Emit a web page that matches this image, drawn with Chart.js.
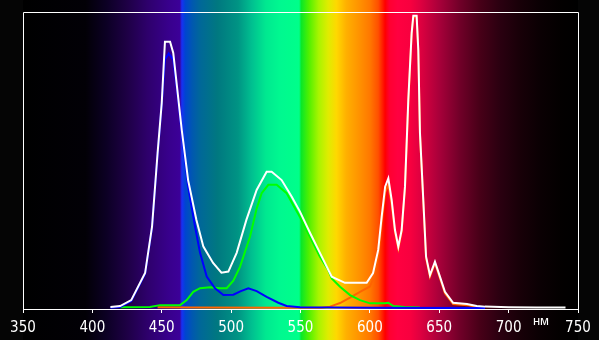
<!DOCTYPE html>
<html><head><meta charset="utf-8">
<script src="https://cdn.jsdelivr.net/npm/chart.js@4.4.1/dist/chart.umd.min.js"></script>
<style>html,body{margin:0;padding:0;background:#050505;}#wrap{width:599px;height:340px;}</style>
</head><body><div id="wrap"><canvas id="c" width="599" height="340"></canvas></div>
<script>
// ---- data ----
const xTickValues = [350, 400, 450, 500, 550, 600, 650, 700, 750];
const unitLabel = 'нм';

const whiteWl  = [413, 420, 428, 438, 443, 447, 450, 452.3, 456, 458.3, 461, 464.4, 469, 475, 480, 487, 493, 498, 504, 511, 518.4, 525.6, 529.2, 536.4, 543.7, 549.6, 557, 564, 572.5, 582, 597.7, 602.3, 606, 608.5, 611, 613.3, 615.7, 618.1, 620.5, 622.9, 625.3, 627.7, 630.1, 631.3, 633.7, 634.9, 636.1, 638.5, 640.5, 643.3, 646.9, 650.5, 654.1, 660, 670, 677, 683, 700, 720, 741];
const whiteVal = [0.7, 1.0, 3.0, 12.1, 27.7, 52.5, 69.4, 90.0, 90.0, 86.2, 74.8, 60.3, 43.4, 30.0, 21.0, 15.5, 12.2, 12.6, 18.9, 30.0, 40.1, 46.2, 46.2, 43.4, 37.8, 32.8, 25.5, 18.9, 10.9, 8.8, 8.8, 12.1, 19.9, 31.1, 41.2, 44.0, 36.7, 26.6, 21.0, 26.6, 41.2, 70.4, 92.9, 98.7, 98.7, 87.2, 59.3, 36.7, 17.6, 11.4, 15.9, 10.9, 5.8, 2.1, 1.7, 1.0, 0.8, 0.6, 0.5, 0.5];

const blueWl  = [413, 420, 428, 438, 443, 447, 450, 452.3, 455, 458.3, 461, 464.4, 469, 474, 477.6, 482.4, 488.4, 494.4, 501.6, 507, 512.4, 518.4, 525.6, 534, 540, 549.6, 600, 683];
const blueVal = [0.4, 0.7, 2.7, 11.8, 27.3, 52, 69, 84, 86, 84, 74, 59.5, 41.2, 27.7, 18.9, 10.9, 7.0, 4.7, 4.8, 6.0, 7.0, 6.0, 4.1, 2.1, 1.0, 0.6, 0.4, 0.3];

const greenWl  = [420, 441.5, 448.7, 463.2, 468, 472.7, 477.6, 484.8, 492, 496.8, 501.6, 506.4, 513.6, 518.4, 522, 526.8, 532.8, 540, 549.6, 559.2, 564, 570, 572.5, 578.5, 585.7, 592.9, 600.1, 610.9, 613.3, 616.9, 625, 636];
const greenVal = [0.6, 0.7, 1.3, 1.3, 3.0, 5.8, 7.0, 7.3, 7.0, 7.0, 9.5, 14.2, 24.3, 33.8, 39, 41.8, 41.8, 39, 31, 22.1, 17.6, 13.1, 10.3, 7.5, 4.7, 3.0, 1.9, 1.9, 2.1, 1.0, 0.7, 0.5];

const redWl  = [447, 470, 540, 565, 571.3, 578.5, 585.7, 592.9, 600.1, 602.3, 606, 608.5, 611, 613.3, 615.7, 618.1, 620.5, 622.9, 625.3, 627.7, 630.1, 631.3, 633.7, 634.9, 636.1, 638.5, 640.5, 643.3, 646.9, 650.5, 654.1, 660, 670, 677, 683];
const redVal = [0.6, 0.5, 0.4, 0.4, 0.8, 2.0, 3.8, 5.8, 7.6, 10.0, 18.0, 29.5, 39.3, 41.8, 35.3, 25.8, 20.4, 26.0, 40.7, 69.9, 92.4, 98.2, 98.2, 86.7, 58.8, 36.2, 17.1, 10.9, 15.4, 10.4, 5.3, 1.7, 1.3, 0.7, 0.5];

// ---- style: spectrum background colour stops (wavelength, colour) ----
const spectrumStops = [
  [350,'#000000'],[395,'#020006'],[410,'#0c0024'],[425,'#1e0045'],[440,'#2e006c'],[455,'#38008c'],[463,'#3c0098'],
  [464.5,'#1830f4'],[467,'#0045d0'],[472,'#0058b0'],[478,'#006898'],[490,'#007880'],[505,'#009484'],[515,'#00c090'],
  [525,'#00e890'],[535,'#00f890'],[549,'#00ff8a'],[550.5,'#08e828'],[556,'#50f000'],[563,'#a8f400'],[570,'#e0ec00'],
  [576,'#ffd800'],[583,'#ffb000'],[593,'#ff9000'],[600,'#ff7800'],[606,'#ff5000'],[609,'#ff2000'],[611,'#ff0000'],
  [614,'#ff0030'],[620,'#ff0040'],[629,'#f8003f'],[636,'#e00040'],[650,'#a8003a'],[665,'#700028'],[679,'#480018'],
  [694,'#2a0010'],[708,'#180008'],[723,'#0a0003'],[737,'#030000'],[750,'#000000']
];

const pts = (xs, ys) => xs.map((x, i) => ({x, y: ys[i]}));

const bgPlugin = {
  id: 'spectrumBg',
  beforeDraw(chart) {
    const {ctx, width, height} = chart;
    const sx = chart.scales.x;
    const x0 = sx.getPixelForValue(350), x1 = sx.getPixelForValue(750);
    const g = ctx.createLinearGradient(x0, 0, x1, 0);
    spectrumStops.forEach(([wl, c]) => g.addColorStop((wl - 350) / 400, c));
    ctx.save();
    ctx.fillStyle = '#050505';
    ctx.fillRect(0, 0, width, height);
    ctx.fillStyle = g;
    ctx.fillRect(x0, 0, x1 - x0, height);
    ctx.restore();
  },
  afterDraw(chart) {
    const {ctx, chartArea: a} = chart;
    ctx.save();
    ctx.strokeStyle = '#ffffff';
    ctx.lineWidth = 1;
    ctx.beginPath();
    ctx.moveTo(a.left + 0.5, a.bottom);
    ctx.lineTo(a.left + 0.5, a.top + 0.5);
    ctx.lineTo(a.right + 0.5, a.top + 0.5);
    ctx.lineTo(a.right + 0.5, a.bottom);
    ctx.stroke();
    ctx.fillStyle = '#ffffff';
    ctx.font = '13px "Liberation Sans", Arial, sans-serif';
    ctx.textAlign = 'center';
    ctx.textBaseline = 'alphabetic';
    ctx.fillText(unitLabel, chart.scales.x.getPixelForValue(723.3), 325);
    ctx.restore();
  }
};

const line = (data, color) => ({
  data, borderColor: color, borderWidth: 2, pointRadius: 0, tension: 0, fill: false
});

new Chart(document.getElementById('c'), {
  type: 'line',
  data: {
    datasets: [
      line(pts(whiteWl, whiteVal), '#ffffff'),
      line(pts(blueWl, blueVal), '#0000ff'),
      line(pts(greenWl, greenVal), '#00ff00'),
      line(pts(redWl, redVal), '#ff6400')
    ]
  },
  options: {
    responsive: false,
    devicePixelRatio: 1,
    animation: false,
    layout: {padding: {left: 23, right: 21, top: 12, bottom: 0}},
    plugins: {legend: {display: false}, tooltip: {enabled: false}},
    scales: {
      x: {
        type: 'linear', min: 350, max: 750,
        afterBuildTicks: (s) => { s.ticks = xTickValues.map(v => ({value: v})); },
        afterFit: (s) => { s.height = 31; },
        ticks: {color: '#ffffff', font: {size: 15, family: '"Liberation Sans Narrow", "DejaVu Sans Condensed", Arial, sans-serif'}, padding: 6, maxRotation: 0, autoSkip: false},
        grid: {drawOnChartArea: false, drawTicks: true, tickLength: 4, color: '#ffffff', lineWidth: 1},
        border: {display: true, color: '#ffffff', width: 1}
      },
      y: {display: false, min: 0, max: 100}
    }
  },
  plugins: [bgPlugin]
});
</script>
</body></html>
